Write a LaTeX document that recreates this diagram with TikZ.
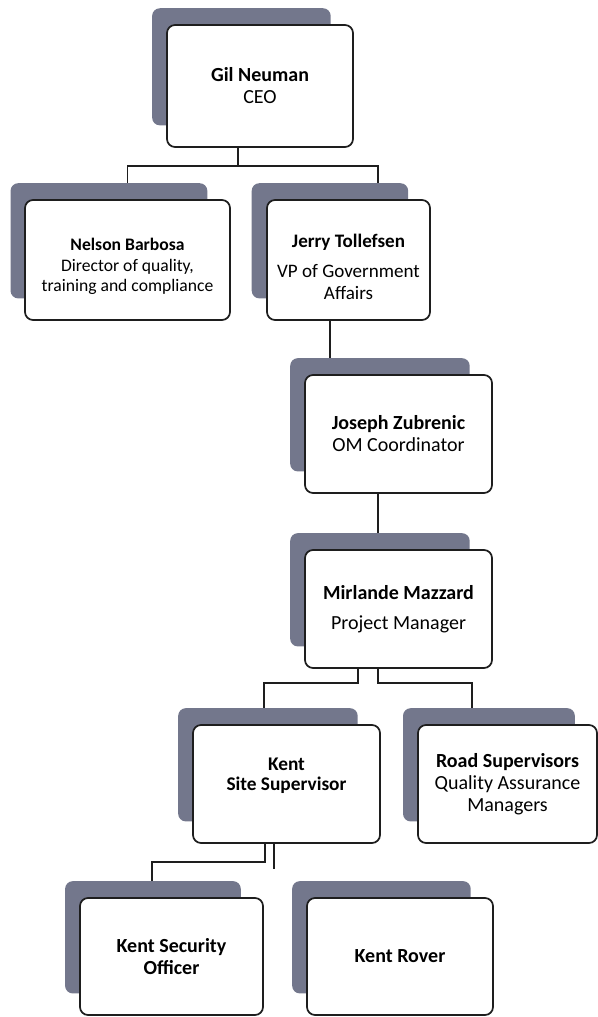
\documentclass[tikz,border=0pt]{standalone}
\usepackage{fontspec}
\setmainfont{Carlito}
\usetikzlibrary{shadows, backgrounds}
\definecolor{backgray}{RGB}{115,119,140}
\definecolor{lineink}{RGB}{30,30,30}

\begin{document}
\begin{tikzpicture}[
   x=0.75pt, y=-0.75pt,
   box/.style={draw=lineink, line width=1.3pt, rounded corners=6pt, fill=white,
         align=center, inner sep=2pt, font=\fontsize{15}{16.5}\selectfont,
         general shadow={fill=backgray, shadow scale=0.96,
           shadow xshift=-14.5pt, shadow yshift=15pt}},
   conn/.style={draw=lineink, line width=1.3pt},
  ]
  \useasboundingbox (0,0) rectangle (598,1017);

  \node[box, minimum width=139.5pt, minimum height=91.5pt] (ceo) at (260,86)
    {\textbf{Gil Neuman}\\CEO};
  \node[box, minimum width=153.75pt, minimum height=90pt,
        font=\fontsize{13.2}{15.5}\selectfont] (nelson) at (127.5,260)
    {\rule{0pt}{19pt}\textbf{Nelson Barbosa}\\Director of quality,\\training and compliance};
  \node[box, minimum width=122.25pt, minimum height=90pt,
        font=\fontsize{14.3}{16}\selectfont] (jerry) at (348.5,260)
    {\rule{0pt}{20pt}\textbf{Jerry Tollefsen}\\[7pt]VP of Government\\Affairs};
  \node[box, minimum width=140.25pt, minimum height=88.5pt] (joseph) at (398.5,434)
    {\textbf{Joseph Zubrenic}\\OM Coordinator};
  \node[box, minimum width=140.25pt, minimum height=88.5pt] (mirlande) at (398.5,609)
    {\textbf{Mirlande Mazzard}\\[6pt]Project Manager};
  \node[box, minimum width=140.25pt, minimum height=88.5pt,
        font=\fontsize{14.5}{14.5}\selectfont] (kent) at (286.5,784)
    {\textbf{Kent}\\\textbf{Site Supervisor}\\[-4pt]\strut};
  \node[box, minimum width=134.25pt, minimum height=88.5pt] (road) at (507.5,784)
    {\textbf{Road Supervisors}\\Quality Assurance\\Managers};
  \node[box, minimum width=137.25pt, minimum height=87.75pt] (kso) at (171.5,956.5)
    {\textbf{Kent Security}\\\textbf{Officer}};
  \node[box, minimum width=139.5pt, minimum height=87.75pt] (rover) at (400,956.5)
    {\textbf{Kent Rover}};

  \begin{scope}[on background layer]
    \draw[conn] ([xshift=-16.5pt]ceo.south) -- ++(0,-13.5pt) -| (nelson.center);
    \draw[conn] ([xshift=-16.5pt]ceo.south) -- ++(0,-13.5pt) -| ([xshift=22pt]jerry.north);
    \draw[conn] ([xshift=-14pt]jerry.south) |- (joseph.center);
    \draw[conn] ([xshift=-15.4pt]joseph.south) |- (mirlande.center);
    \draw[conn] ([xshift=-30.4pt]mirlande.south) -- ++(0,-10.5pt) -| ([xshift=-16.9pt]kent.north);
    \draw[conn] ([xshift=-15.4pt]mirlande.south) -- ++(0,-10.5pt) -| ([xshift=-26.6pt]road.north);
    \draw[conn] ([xshift=-16.1pt]kent.south) -- ++(0,-13.5pt) -| ([xshift=-14.6pt]kso.north);
    \draw[conn] ([xshift=-9.4pt]kent.south) -- ++(0,-18.75pt);
  \end{scope}
\end{tikzpicture}
\end{document}
